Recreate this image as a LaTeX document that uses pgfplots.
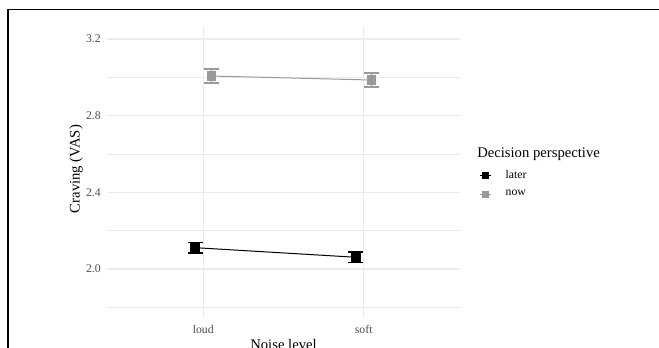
\documentclass[border=0pt]{standalone}
\usepackage{fontspec}
\setmainfont{Liberation Serif}
\usepackage{pgfplots}
\pgfplotsset{compat=1.18}
\definecolor{gridc}{HTML}{EBEBEB}
\definecolor{tickc}{HTML}{4D4D4D}
\definecolor{nowc}{HTML}{999999}
\begin{document}
\begin{tikzpicture}
\useasboundingbox (0,0) rectangle (494.25pt,261pt);
\clip (0,0) rectangle (494.25pt,261pt);
\begin{axis}[
 at={(80.25pt,22.5pt)}, anchor=south west, scale only axis,
 width=264.75pt, height=219pt,
 xmin=0.4, xmax=2.6, ymin=1.744, ymax=3.268,
 axis line style={draw=none},
 major tick length=0pt, minor tick length=0pt,
 xtick={1,2}, xticklabels={loud,soft},
 ytick={2.0,2.4,2.8,3.2}, yticklabels={2.0,2.4,2.8,3.2},
 minor ytick={1.8,2.2,2.6,3.0},
 xmajorgrids, ymajorgrids, yminorgrids,
 major grid style={gridc, line width=1.07pt},
 minor grid style={gridc, line width=0.6pt},
 ticklabel style={font=\fontsize{8.8}{10}\selectfont, text=tickc},
 xticklabel style={inner sep=0pt, anchor=north, yshift=-5.25pt},
 yticklabel style={inner sep=0pt, anchor=east, xshift=-4.5pt},
 xlabel={Noise level}, ylabel={Craving (VAS)},
 label style={font=\fontsize{11}{13}\selectfont},
 xlabel style={at={(axis description cs:0.5,-0.0719)}, anchor=north, inner sep=0pt},
 ylabel style={at={(axis description cs:-0.0878,0.51)}, anchor=center, inner sep=0pt},
 legend style={at={(axis description cs:1.0557,0.459)}, anchor=west, draw=none, fill=none,
   inner sep=0pt, outer sep=0pt, row sep=3.7pt, column sep=8.75pt,
   font=\fontsize{8.8}{10}\selectfont, cells={anchor=west}},
 legend image code/.code={\draw[mark repeat=2,mark phase=2,#1,mark size=2.3pt] plot coordinates {(0pt,0pt) (4pt,0pt) (8pt,0pt)};},
]
\addplot[black, line width=0.75pt, mark=square*, mark size=3.4pt, mark options={solid},
  error bars/.cd, y dir=both, y explicit, error mark=|,
  error bar style={line width=1.2pt},
  error mark options={line width=1.2pt, mark size=5.6pt}]
  coordinates {(0.95,2.111) +- (0,0.028) (1.95,2.061) +- (0,0.028)};
\addplot[nowc, line width=0.75pt, mark=square*, mark size=3.1pt, mark options={solid},
  error bars/.cd, y dir=both, y explicit, error mark=|,
  error bar style={line width=1pt},
  error mark options={line width=1pt, mark size=5.8pt}]
  coordinates {(1.05,3.007) +- (0,0.036) (2.05,2.986) +- (0,0.036)};
\legend{later, now}
\end{axis}
\node[anchor=west, inner sep=0pt, font=\fontsize{11}{13}\selectfont] at (357.75pt,145.5pt) {Decision perspective};
\draw[line width=0.9pt] (6pt,-2pt) -- (6pt,253.875pt) -- (500pt,253.875pt);
\end{tikzpicture}
\end{document}
